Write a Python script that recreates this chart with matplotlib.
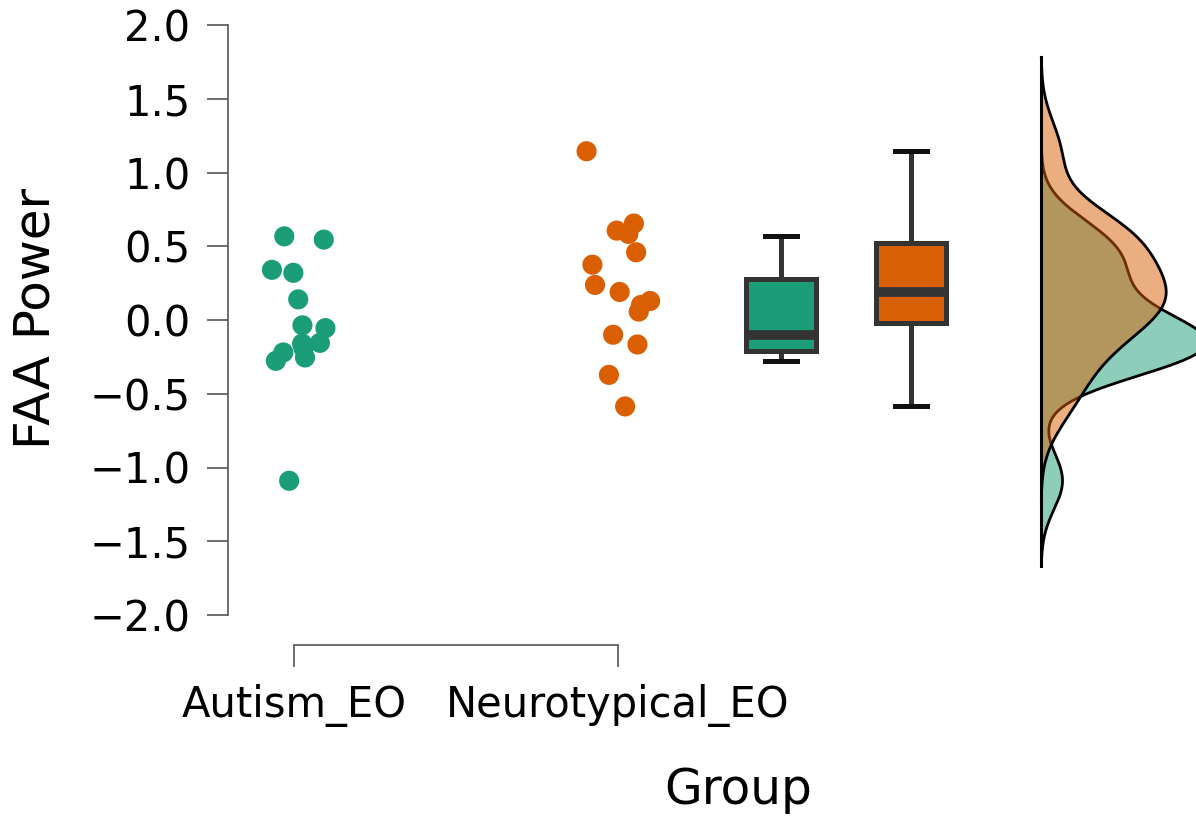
import numpy as np
import matplotlib
matplotlib.use('Agg')
import matplotlib.pyplot as plt

# ── data ──
groups = ['Autism_EO', 'Neurotypical_EO']
colors = ['#1b9e77', '#d95f02']

autism_y = [0.567, 0.545, 0.34, 0.32, 0.14, -0.036, -0.055, -0.155, -0.22,
            -0.19, -0.16, -0.254, -0.277, -1.09]
autism_jit = [-0.030, 0.092, -0.068, -0.002, 0.013, 0.026, 0.097, 0.080,
              -0.033, 0.029, 0.025, 0.034, -0.056, -0.015]

nt_y = [1.144, 0.606, 0.654, 0.584, 0.459, 0.375, 0.238, 0.19, 0.129, 0.102,
        0.057, -0.10, -0.166, -0.372, -0.586]
nt_jit = [-0.097, -0.004, 0.049, 0.032, 0.056, -0.079, -0.071, 0.005, 0.099,
          0.071, 0.064, -0.015, 0.060, -0.028, 0.022]

y_ticks = [-2.0, -1.5, -1.0, -0.5, 0.0, 0.5, 1.0, 1.5, 2.0]

# layout in data units
box_pos = [2.503, 2.904]
dens_base = 3.306
dens_width = 0.386      # width of the orange peak


def kde(vals):
    """gaussian kde, R bw.nrd0 bandwidth, grid cut=3"""
    v = np.asarray(vals)
    n = len(v)
    q75, q25 = np.percentile(v, [75, 25])
    bw = 0.9 * min(v.std(ddof=1), (q75 - q25) / 1.34) * n ** -0.2
    grid = np.linspace(v.min() - 3 * bw, v.max() + 3 * bw, 512)
    d = np.exp(-0.5 * ((grid[:, None] - v[None, :]) / bw) ** 2).sum(1)
    d /= n * bw * np.sqrt(2 * np.pi)
    return grid, d


W, H = 1196, 818
fig = plt.figure(figsize=(W / 100, H / 100), dpi=100)
ax = fig.add_axes([228 / W, (H - 645) / H, 1 - 228 / W, 635 / H])
ax.set_xlim(1 - (294 - 228) / 324, 1 + (W - 294) / 324)
ax.set_ylim(-2 - 30 / 147.5, 2 + 15 / 147.5)

# points
for i, (ys, jit) in enumerate([(autism_y, autism_jit), (nt_y, nt_jit)]):
    xs = (i + 1) + np.asarray(jit)
    ax.scatter(xs, ys, s=210, color=colors[i], edgecolor='none', zorder=3)

# boxes
bp = ax.boxplot([autism_y, nt_y], positions=box_pos, widths=0.216,
                patch_artist=True, showfliers=False, capwidths=0.1,
                manage_ticks=False)
for patch, c in zip(bp['boxes'], colors):
    patch.set_facecolor(c)
    patch.set_edgecolor('#333333')
    patch.set_linewidth(3.6)
for ln in bp['medians']:
    ln.set_color('#333333'); ln.set_linewidth(7)
for ln in bp['whiskers']:
    ln.set_color('#333333'); ln.set_linewidth(3.6)
for ln in bp['caps']:
    ln.set_color('#111111'); ln.set_linewidth(3.6)

# densities
dens = [kde(autism_y), kde(nt_y)]
scale = dens_width / dens[1][1].max()
lo = min(g.min() for g, _ in dens)
hi = max(g.max() for g, _ in dens)
for (g, d), c in zip(dens, colors):
    ax.fill_betweenx(g, dens_base, dens_base + d * scale, facecolor=c,
                     alpha=0.5, edgecolor='none', zorder=2)
    ax.plot(dens_base + d * scale, g, color='black', lw=2, zorder=2)
ax.plot([dens_base, dens_base], [lo, hi], color='black', lw=2.2, zorder=4)

# axes styling
for s in ['top', 'right']:
    ax.spines[s].set_visible(False)
ax.spines['left'].set_bounds(-2, 2)
ax.spines['bottom'].set_bounds(1, 2)
for s in ['left', 'bottom']:
    ax.spines[s].set_color('#555555')
    ax.spines[s].set_linewidth(1.2)
ax.set_yticks(y_ticks)
ax.set_yticklabels([f'{t:.1f}'.replace('-', '\u2212') for t in y_ticks])
ax.set_xticks([1, 2])
ax.set_xticklabels(groups)
ax.tick_params(axis='y', length=15, width=1.2, color='#555555', pad=12,
               labelsize=30)
ax.tick_params(axis='x', length=16, width=1.2, color='#555555', pad=12,
               labelsize=30)

fig.text(36 / W, 1 - 318 / H, 'FAA Power', rotation=90, ha='center',
         va='center', fontsize=36)
fig.text(738 / W, 1 - 790 / H, 'Group', ha='center', va='center', fontsize=35)

fig.savefig('out.png', dpi=100)
